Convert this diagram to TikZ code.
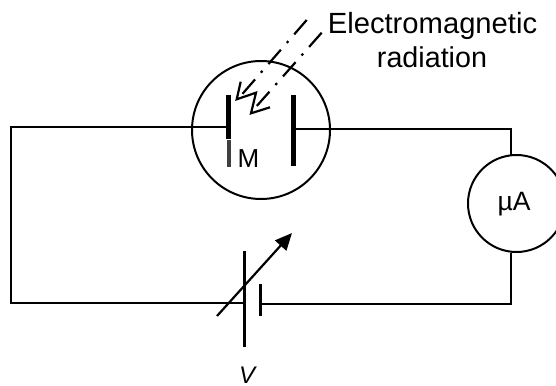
\documentclass[tikz,border=0pt]{standalone}
\usepackage{fontspec}
\setmainfont{Liberation Sans}
\usetikzlibrary{arrows.meta,shapes.geometric}
\tikzset{
  wire/.style={line width=2.4pt,black},
  outline/.style={line width=2pt,black},
  plate/.style={line width=5pt,black},
  ray/.style={line width=2.2pt,dash pattern=on 19pt off 9pt on 2.4pt off 9pt},
  head/.style={line width=2.2pt,line join=miter},
  lab/.style={inner sep=0pt,anchor=base,font=\fontsize{#1}{#1}\selectfont},
}
\begin{document}
\begin{tikzpicture}[x=1pt,y=-1pt]
\useasboundingbox (0,0) rectangle (556,385);
\fill[white] (0,0) rectangle (556,385);
% tube and meter
\node[circle,draw,outline,minimum size=138pt,inner sep=0pt] (tube) at (261,130) {};
\begin{scope}
\clip (0,0) rectangle (556,385);
\node[circle,draw,outline,minimum size=97pt,inner sep=0pt] (meter) at (516.5,203.5) {};
\end{scope}
% wire coordinates
\coordinate (tl) at (11,127);
\coordinate (bl) at (11,302);
\coordinate (b0) at (10,303);
\coordinate (pl) at (228,127);
\coordinate (pr) at (293,129);
\coordinate (tr) at (511,129);
\coordinate (mt) at (511,155);
\coordinate (mb) at (511,253);
\coordinate (br) at (511,304);
\coordinate (cl) at (244,303);
\coordinate (cr) at (261,304);
\draw[wire] (pl) -- (tl) -- (bl);
\draw[wire] (b0) -- (cl);
\draw[wire] (pr) -- (tr) -- (mt);
\draw[wire,line width=2.6pt] (mb) -- (br) -- (cr);
% plates
\coordinate (p1a) at (228.5,95);
\coordinate (p1b) at (228.5,139);
\coordinate (p1c) at (229,140);
\coordinate (p1d) at (229,167);
\coordinate (p2a) at (293.5,95);
\coordinate (p2b) at (293.5,166);
\draw[plate] (p1a) -- (p1b);
\draw[line width=3.6pt,black!75] (p1c) -- (p1d);
\draw[plate] (p2a) -- (p2b);
% rays
\coordinate (r1s) at (306.7,20);
\coordinate (r1e) at (238,99);
\coordinate (r2s) at (321.7,32.7);
\coordinate (r2e) at (251,112.5);
\draw[ray] (r1s) -- (r1e);
\draw[ray] (r2s) -- (r2e);
\coordinate (z0) at (240.7,81.7);
\coordinate (z1) at (236.7,99.3);
\coordinate (z2) at (256,92.7);
\coordinate (z3) at (251,113.3);
\coordinate (z4) at (270,107.3);
\draw[head] (z0) -- (z1) -- (z2) -- (z3) -- (z4);
% battery
\coordinate (c1a) at (244.3,251);
\coordinate (c1b) at (244.3,347);
\coordinate (c2a) at (260.7,284);
\coordinate (c2b) at (260.7,316);
\draw[line width=3pt] (c1a) -- (c1b);
\draw[line width=3pt] (c2a) -- (c2b);
\coordinate (va) at (217,316);
\coordinate (vb) at (292,233);
\draw[line width=2.2pt,-{Triangle[length=17pt,width=15pt]}] (va) -- (vb);
% labels
\node[lab=29.2] (em) at (432.5,34) {Electromagnetic};
\node[lab=28.7] (rad) at (432,68) {radiation};
\node[lab=26] (mm) at (248.5,167) {M};
\node[lab=26.5] (ua) at (514,210) {µA};
\node[lab=24,font=\fontsize{24}{24}\selectfont\itshape] (vv) at (247,383) {V};
\end{tikzpicture}
\end{document}
